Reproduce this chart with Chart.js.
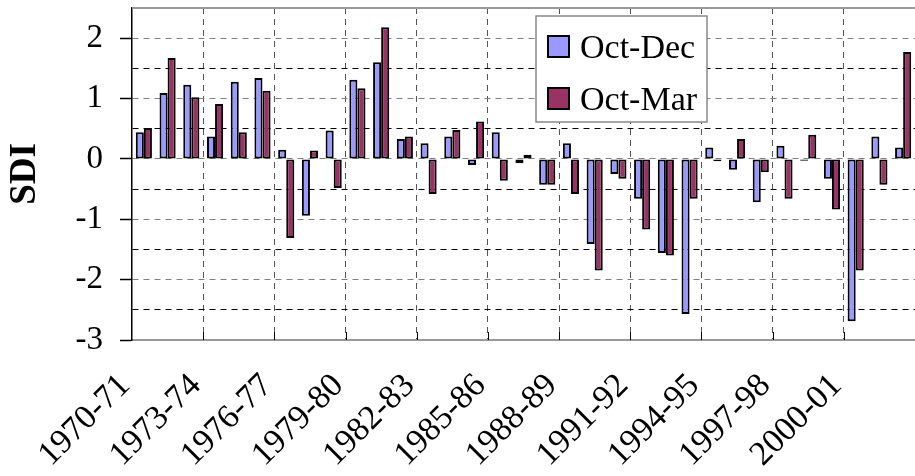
<!DOCTYPE html>
<html>
<head>
<meta charset="utf-8">
<script src="https://cdn.jsdelivr.net/npm/chart.js@4.4.1/dist/chart.umd.min.js"></script>
<style>
html,body{margin:0;background:#fff}
#wrap{width:915px;height:476px}
</style>
</head>
<body>
<div id="wrap"><canvas id="sdi"></canvas></div>
<script>
const seasons=["1970-71","1971-72","1972-73","1973-74","1974-75","1975-76","1976-77","1977-78","1978-79","1979-80",
"1980-81","1981-82","1982-83","1983-84","1984-85","1985-86","1986-87","1987-88","1988-89","1989-90",
"1990-91","1991-92","1992-93","1993-94","1994-95","1995-96","1996-97","1997-98","1998-99","1999-00",
"2000-01","2001-02","2002-03"];
const octDec=[0.44,1.09,1.23,0.37,1.28,1.34,0.15,-0.94,0.47,1.31,1.60,0.33,0.26,0.37,-0.10,0.44,-0.07,-0.43,0.26,-1.41,
-0.25,-0.66,-1.56,-2.57,0.19,-0.18,-0.72,0.22,-0.03,-0.33,-2.69,0.37,0.19];
const octMar=[0.51,1.67,1.02,0.91,0.44,1.13,-1.31,0.14,-0.48,1.17,2.18,0.37,-0.58,0.48,0.62,-0.36,0.07,-0.43,-0.58,-1.85,
-0.33,-1.17,-1.60,-0.66,-0.04,0.33,-0.22,-0.66,0.40,-0.84,-1.85,-0.43,1.77];
const seriesNames=["Oct-Dec","Oct-Mar"];
const seriesColors=["#9999FF","#993366"];
const yMin=-3,yMax=2.5,yStep=0.5;
const serif="'Liberation Serif','Times New Roman',serif";

// plot frame top line, inner x ticks and the boxed legend
const frame={
  id:"frame",
  afterDraw(ch){
    const ctx=ch.ctx,ca=ch.chartArea,xs=ch.scales.x;
    ctx.save();
    ctx.strokeStyle="#999";ctx.lineWidth=2;
    ctx.beginPath();ctx.moveTo(ca.left,ca.top);ctx.lineTo(ca.right,ca.top);ctx.stroke();
    ctx.strokeStyle="#000";ctx.lineWidth=1;
    for(let i=3;i<seasons.length;i+=3){
      const x=Math.round((xs.getPixelForValue(i-1)+xs.getPixelForValue(i))/2)+0.5;
      ctx.beginPath();ctx.moveTo(x,ca.bottom-8);ctx.lineTo(x,ca.bottom);ctx.stroke();
    }
    // legend
    const lx=536,ly=16,lw=171,lh=106;
    ctx.fillStyle="#fff";ctx.fillRect(lx,ly,lw,lh);
    ctx.strokeStyle="#888";ctx.lineWidth=1.5;ctx.strokeRect(lx,ly,lw,lh);
    ctx.font="34px "+serif;ctx.textBaseline="alphabetic";ctx.textAlign="left";
    ch.data.datasets.forEach((d,i)=>{
      const y=ly+20+i*52;
      ctx.fillStyle=d.backgroundColor;ctx.fillRect(lx+12,y,21,21);
      ctx.strokeStyle="#000";ctx.lineWidth=2;ctx.strokeRect(lx+12,y,21,21);
      ctx.fillStyle="#000";ctx.fillText(d.label,lx+44,y+22);
    });
    ctx.restore();
  }
};

new Chart(document.getElementById("sdi"),{
  type:"bar",
  data:{
    labels:seasons,
    datasets:[
      {label:seriesNames[0],data:octDec,backgroundColor:seriesColors[0]},
      {label:seriesNames[1],data:octMar,backgroundColor:seriesColors[1]}
    ].map(d=>Object.assign(d,{borderColor:"#000",borderWidth:2,borderSkipped:false,categoryPercentage:0.68,barPercentage:1}))
  },
  options:{
    responsive:true,maintainAspectRatio:false,animation:false,
    layout:{padding:{top:8,right:0,bottom:0,left:0}},
    plugins:{legend:{display:false},tooltip:{enabled:false}},
    scales:{
      x:{
        afterFit(s){s.height=136;s.paddingLeft=0;s.paddingRight=0;},
        ticks:{autoSkip:false,minRotation:45,maxRotation:45,padding:26,labelOffset:-19,color:"#000",
          font:{family:serif,size:34},
          callback:(v,i)=>i%3===0?seasons[i]:""},
        grid:{offset:true,drawTicks:false,lineWidth:1,
          color:c=>(c.index>0&&c.index<seasons.length&&c.index%3===0)?"#555":"transparent"},
        border:{color:"#999",width:2,dash:[6,5]}
      },
      y:{
        min:yMin,max:yMax,
        afterFit(s){s.width=132;s.paddingTop=0;s.paddingBottom=0;},
        ticks:{stepSize:yStep,autoSkip:false,padding:17,color:"#000",font:{family:serif,size:33},
          callback:v=>Number.isInteger(v)?String(v):""},
        grid:{lineWidth:1,tickLength:12,tickWidth:1.5,
          color:c=>(c.tick&&Number.isInteger(c.tick.value))?"#808080":"#000",
          tickColor:c=>(c.tick&&Number.isInteger(c.tick.value))?"#000":"transparent"},
        border:{color:"#000",width:1.5,dash:[6,5]},
        title:{display:true,text:"SDI",color:"#000",font:{family:serif,size:37,weight:"bold"},padding:{top:3,bottom:0}}
      }
    }
  },
  plugins:[frame]
});
</script>
</body>
</html>
